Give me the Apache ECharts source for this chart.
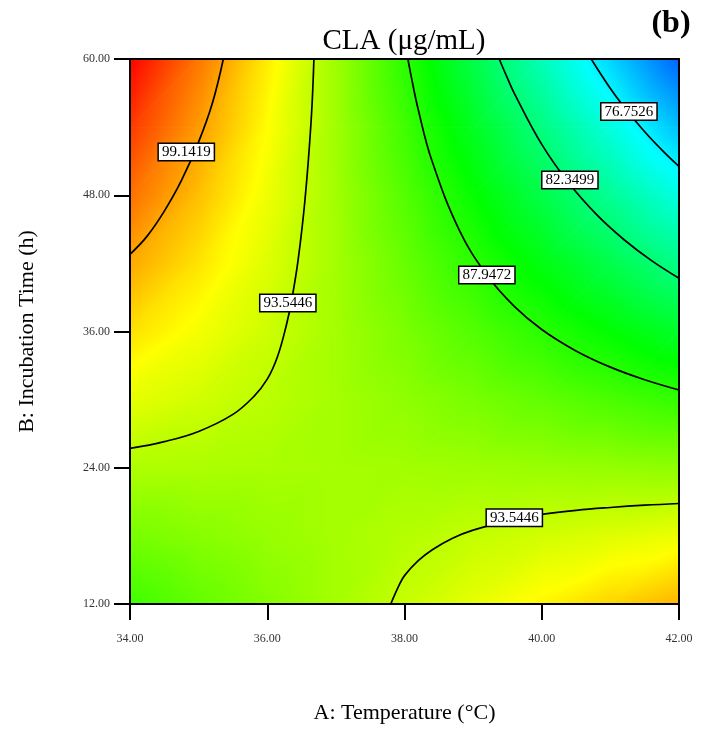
<!DOCTYPE html>
<html>
<head>
<meta charset="utf-8">
<script src="https://cdn.jsdelivr.net/npm/echarts@6/dist/echarts.min.js"></script>
<style>
  html, body { margin: 0; padding: 0; background: #ffffff; }
  #chart { width: 708px; height: 729px; }
</style>
</head>
<body>
<div id="chart"></div>
<script>
// Response grid: CLA (µg/mL) at each temperature (columns) for each incubation time (rows)
const temperature = [34, 35, 36, 37, 38, 39, 40, 41, 42];
const incubationTime = [12, 18, 24, 30, 36, 42, 48, 54, 60];

const cla12h = [88.81, 90.06, 91.30, 92.53, 93.74, 94.94, 96.13, 97.31, 98.47];
const cla18h = [90.85, 91.42, 91.99, 92.54, 93.07, 93.60, 94.11, 94.61, 95.10];
const cla24h = [92.87, 92.77, 92.66, 92.53, 92.40, 92.25, 92.08, 91.91, 91.72];
const cla30h = [94.88, 94.11, 93.32, 92.52, 91.70, 90.88, 90.04, 89.19, 88.33];
const cla36h = [96.88, 95.43, 93.97, 92.49, 91.00, 89.50, 87.99, 86.46, 84.92];
const cla42h = [98.87, 96.74, 94.60, 92.45, 90.28, 88.11, 85.92, 83.72, 81.50];
const cla48h = [100.84, 98.04, 95.22, 92.40, 89.56, 86.70, 83.84, 80.96, 78.07];
const cla54h = [102.80, 99.32, 95.83, 92.33, 88.81, 85.28, 81.74, 78.19, 74.62];
const cla60h = [104.75, 100.60, 96.43, 92.25, 88.06, 83.86, 79.64, 75.41, 71.17];

// Contour levels and the traced iso-lines as [temperature, time] pairs
const contourLevels = [76.7526, 82.3499, 87.9472, 93.5446, 99.1419];
const contour76 = [[40.72, 60], [41.0, 57.40], [41.2, 55.77], [41.5, 53.59], [41.8, 51.68], [42.0, 50.54]];
const contour82 = [[39.38, 60], [39.5, 58.31], [39.6, 56.97], [40.0, 52.48], [40.4, 49.03], [40.8, 46.29], [41.2, 44.08], [41.6, 42.24], [42.0, 40.69]];
const contour88 = [[38.05, 60], [38.1, 58.4], [38.2, 55.55], [38.4, 51.03], [38.8, 44.91], [39.2, 40.97], [39.6, 38.21], [40.0, 36.18], [40.5, 34.29], [41.0, 32.86], [41.5, 31.75], [42.0, 30.85]];
const contour93Upper = [[34.0, 25.7], [34.5, 26.3], [35.0, 27.2], [35.5, 28.7], [35.8, 30.25], [36.0, 31.8], [36.15, 33.8], [36.28, 36.6], [36.36, 38.9], [36.45, 42.3], [36.55, 47.6], [36.64, 54.6], [36.68, 60]];
const contour93Lower = [[37.8, 12], [37.92, 13.63], [38.0, 14.5], [38.2, 15.81], [38.4, 16.76], [38.7, 17.79], [39.0, 18.51], [39.6, 19.46], [40.0, 19.89], [40.5, 20.25], [41.0, 20.5], [41.5, 20.7], [42.0, 20.85]];
const contour99 = [[34.0, 42.8], [34.25, 44.4], [34.5, 46.6], [34.75, 49.3], [35.0, 52.7], [35.2, 56.1], [35.36, 60]];

// Where each contour value is written: [temperature, time, level]
const contourTags = [
  [34.82, 51.8, 99.1419],
  [36.3, 38.5, 93.5446],
  [39.2, 40.97, 87.9472],
  [40.41, 49.35, 82.3499],
  [41.27, 55.37, 76.7526],
  [39.6, 19.6, 93.5446]
];

// Colour ramp anchors (response value -> colour)
const rampValues = [67.5, 77, 86.5, 95.8, 104.75];
const rampColors = ['#0000ff', '#00ffff', '#00ff00', '#ffff00', '#ff0000'];

const claByTime = [cla12h, cla18h, cla24h, cla30h, cla36h, cla42h, cla48h, cla54h, cla60h];

function hexToRgb(h) {
  return [parseInt(h.slice(1, 3), 16), parseInt(h.slice(3, 5), 16), parseInt(h.slice(5, 7), 16)];
}
const rampRgb = rampColors.map(hexToRgb);

function colorAt(v) {
  const n = rampValues.length;
  if (v <= rampValues[0]) return 'rgb(' + rampRgb[0].join(',') + ')';
  if (v >= rampValues[n - 1]) return 'rgb(' + rampRgb[n - 1].join(',') + ')';
  for (let k = 0; k < n - 1; k++) {
    if (v <= rampValues[k + 1]) {
      const t = (v - rampValues[k]) / (rampValues[k + 1] - rampValues[k]);
      const a = rampRgb[k], b = rampRgb[k + 1];
      const c = a.map((ch, m) => Math.round(ch + (b[m] - ch) * t));
      return 'rgb(' + c.join(',') + ')';
    }
  }
}

// Fill for a triangle whose colour varies across it: a pixel-space linear gradient
// running along the direction in which the value changes.
function triangleFill(p, v) {
  const d2x = p[1][0] - p[0][0], d2y = p[1][1] - p[0][1];
  const d3x = p[2][0] - p[0][0], d3y = p[2][1] - p[0][1];
  const dv2 = v[1] - v[0], dv3 = v[2] - v[0];
  const det = d2x * d3y - d2y * d3x;
  const vmin = Math.min(v[0], v[1], v[2]);
  const vmax = Math.max(v[0], v[1], v[2]);
  if (Math.abs(det) < 1e-9 || vmax - vmin < 1e-6) return colorAt((vmin + vmax) / 2);
  const a = (dv2 * d3y - d2y * dv3) / det;
  const b = (d2x * dv3 - dv2 * d3x) / det;
  const g2 = a * a + b * b;
  if (g2 < 1e-14) return colorAt((vmin + vmax) / 2);
  const s = (vmin - v[0]) / g2, e = (vmax - v[0]) / g2;
  const sx = p[0][0] + a * s, sy = p[0][1] + b * s;
  const ex = p[0][0] + a * e, ey = p[0][1] + b * e;
  const stops = [{ offset: 0, color: colorAt(vmin) }];
  rampValues.forEach((rv, k) => {
    if (rv > vmin && rv < vmax) {
      stops.push({ offset: (rv - vmin) / (vmax - vmin), color: rampColors[k] });
    }
  });
  stops.push({ offset: 1, color: colorAt(vmax) });
  return new echarts.graphic.LinearGradient(sx, sy, ex, ey, stops, true);
}

const cells = [];
for (let j = 0; j < incubationTime.length - 1; j++) {
  for (let i = 0; i < temperature.length - 1; i++) {
    cells.push([(temperature[i] + temperature[i + 1]) / 2, (incubationTime[j] + incubationTime[j + 1]) / 2, i, j]);
  }
}

function renderCell(params, api) {
  const i = api.value(2), j = api.value(3);
  const p00 = api.coord([temperature[i], incubationTime[j]]);
  const p10 = api.coord([temperature[i + 1], incubationTime[j]]);
  const p01 = api.coord([temperature[i], incubationTime[j + 1]]);
  const p11 = api.coord([temperature[i + 1], incubationTime[j + 1]]);
  const v00 = claByTime[j][i], v10 = claByTime[j][i + 1];
  const v01 = claByTime[j + 1][i], v11 = claByTime[j + 1][i + 1];
  const tri = (pts, vals) => {
    const f = triangleFill(pts, vals);
    return { type: 'polygon', shape: { points: pts }, style: { fill: f, stroke: f, lineWidth: 1 } };
  };
  return {
    type: 'group',
    children: [tri([p00, p10, p11], [v00, v10, v11]), tri([p00, p11, p01], [v00, v11, v01])]
  };
}

const serif = '"Liberation Serif", "Times New Roman", serif';

const contourLines = [contour76, contour82, contour88, contour93Upper, contour93Lower, contour99].map(line => ({
  type: 'line',
  data: line,
  showSymbol: false,
  smooth: 0.4,
  silent: true,
  z: 3,
  lineStyle: { color: '#000000', width: 1.7 }
}));

const chart = echarts.init(document.getElementById('chart'), null, { renderer: 'canvas' });

const hiddenAxisParts = {
  axisTick: { show: false }, axisLabel: { show: false }, splitLine: { show: false }
};

chart.setOption({
  animation: false,
  backgroundColor: '#ffffff',
  grid: { left: 130, right: 29, top: 59, bottom: 120, containLabel: false },
  graphic: [
    {
      type: 'text', x: 404, y: 41, z: 10,
      style: {
        text: 'CLA (μg/mL)', font: '29px ' + serif, fill: '#000000',
        textAlign: 'center', textVerticalAlign: 'middle', align: 'center', verticalAlign: 'middle'
      }
    },
    {
      type: 'text', x: 671, y: 24, z: 10,
      style: {
        text: '(b)', font: 'bold 32px ' + serif, fill: '#000000',
        textAlign: 'center', textVerticalAlign: 'middle', align: 'center', verticalAlign: 'middle'
      }
    }
  ],
  xAxis: [
    {
      type: 'value', min: 34, max: 42, interval: 2, z: 10,
      name: 'A: Temperature (°C)', nameLocation: 'middle', nameGap: 98,
      nameTextStyle: { fontFamily: serif, fontSize: 22, color: '#000000' },
      axisLine: { show: true, onZero: false, lineStyle: { color: '#000000', width: 2 } },
      axisTick: { show: true, inside: false, length: 16, lineStyle: { color: '#000000', width: 2 } },
      axisLabel: { formatter: v => v.toFixed(2), margin: 29, fontFamily: serif, fontSize: 12, color: '#333333' },
      splitLine: { show: false }
    },
    Object.assign({
      type: 'value', min: 34, max: 42, position: 'top', z: 10,
      axisLine: { show: true, onZero: false, lineStyle: { color: '#000000', width: 2 } }
    }, hiddenAxisParts)
  ],
  yAxis: [
    {
      type: 'value', min: 12, max: 60, interval: 12, z: 10,
      name: 'B: Incubation Time (h)', nameLocation: 'middle', nameGap: 92,
      nameTextStyle: { fontFamily: serif, fontSize: 22, color: '#000000' },
      axisLine: { show: true, onZero: false, lineStyle: { color: '#000000', width: 2 } },
      axisTick: { show: true, inside: false, length: 16, lineStyle: { color: '#000000', width: 2 } },
      axisLabel: { formatter: v => v.toFixed(2), margin: 20, fontFamily: serif, fontSize: 12, color: '#333333' },
      splitLine: { show: false }
    },
    Object.assign({
      type: 'value', min: 12, max: 60, position: 'right', z: 10,
      axisLine: { show: true, onZero: false, lineStyle: { color: '#000000', width: 2 } }
    }, hiddenAxisParts)
  ],
  series: [
    {
      type: 'custom',
      renderItem: renderCell,
      data: cells,
      encode: { x: 0, y: 1 },
      clip: true,
      silent: true,
      z: 1
    }
  ].concat(contourLines).concat([
    {
      type: 'scatter',
      data: contourTags,
      symbol: 'rect',
      symbolSize: 1,
      itemStyle: { color: '#ffffff', opacity: 1 },
      silent: true,
      z: 6,
      label: {
        show: true,
        position: 'inside',
        formatter: p => p.value[2].toFixed(4),
        fontFamily: serif,
        fontSize: 15,
        color: '#000000',
        opacity: 1,
        backgroundColor: '#ffffff',
        borderColor: '#000000',
        borderWidth: 1.5,
        padding: [1, 3, 0, 3]
      },
      labelLayout: { hideOverlap: false }
    }
  ])
});
</script>
</body>
</html>
